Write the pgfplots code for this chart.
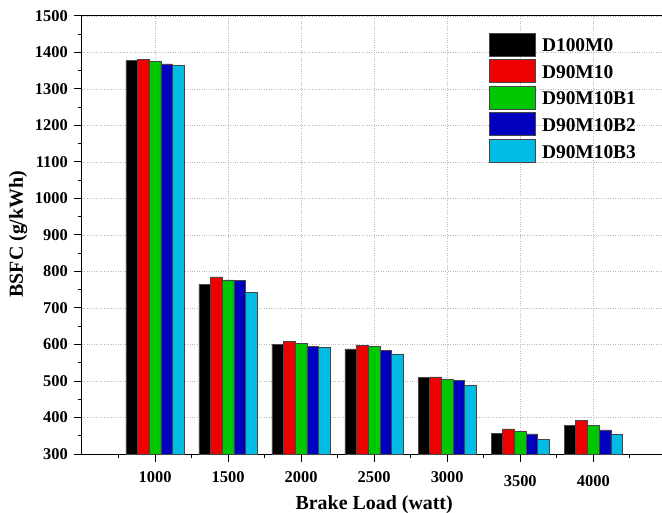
\documentclass[border=0pt]{standalone}
\usepackage{fontspec}
\setmainfont{Liberation Serif}
\usepackage{pgfplots}
\pgfplotsset{compat=1.18}

\definecolor{cRed}{RGB}{238,0,0}
\definecolor{cGreen}{RGB}{0,200,0}
\definecolor{cBlue}{RGB}{0,0,190}
\definecolor{cCyan}{RGB}{0,188,228}
\definecolor{cEdge}{RGB}{70,70,70}

\begin{document}
\begin{tikzpicture}
\begin{axis}[
  scale only axis,
  width=657.4bp, height=438bp,
  xmin=0, xmax=9,
  ymin=300, ymax=1500,
  ybar=0pt, bar width=0.16,
  axis line style={line width=1bp, black},
  xtick={1,2,3,4,5,6,7},
  xticklabels={1000,1500,2000,2500,3000,\raisebox{-4bp}[\height]{3500},\raisebox{-4.5bp}[\height]{4000}},
  minor xtick={0.5,1.5,2.5,3.5,4.5,5.5,6.5,7.5},
  ytick={300,400,...,1500},
  minor y tick num=1,
  tick pos=left, tick align=outside,
  major tick length=8bp, minor tick length=4bp,
  every tick/.style={black, line width=1bp},
  grid=major,
  major grid style={dotted, gray!55, line width=0.7bp},
  /pgf/number format/assume math mode=true,
  ticklabel style={font=\fontsize{16.5}{18}\selectfont\bfseries},
  yticklabel style={/pgf/number format/1000 sep={}, inner sep=0pt, xshift=-6bp},
  xticklabel style={inner sep=0pt, yshift=-9bp, anchor=north},
  xlabel={Brake Load (watt)},
  ylabel={BSFC (g/kWh)},
  label style={font=\fontsize{20}{22}\selectfont\bfseries},
  xlabel style={at={(axis cs:4,300)}, anchor=center, yshift=-51bp},
  ylabel style={at={(axis description cs:-0.097,0.502)}, anchor=center},
  legend cell align=left,
  legend style={draw=none, fill=none, at={(axis cs:5.575,1455)},
    anchor=north west, inner sep=0pt, row sep=3bp, column sep=6bp,
    nodes={inner sep=0pt},
    font=\fontsize{19.5}{21}\selectfont\bfseries},
  legend image code/.code={\draw[#1] (0bp,-10bp) rectangle (46bp,13bp);},
  every axis plot/.append style={draw=cEdge, line width=0.6bp},
]
% BSFC of each blend at each brake load
\addplot[fill=black] coordinates {(1,1378) (2,765) (3,600) (4,588) (5,509) (6,357) (7,379)};
\addplot[fill=cRed] coordinates {(1,1381) (2,785) (3,608) (4,598) (5,511) (6,369) (7,393)};
\addplot[fill=cGreen] coordinates {(1,1376) (2,777) (3,604) (4,594) (5,505) (6,361) (7,378)};
\addplot[fill=cBlue] coordinates {(1,1369) (2,775) (3,595) (4,584) (5,501) (6,355) (7,366)};
\addplot[fill=cCyan] coordinates {(1,1364) (2,743) (3,592) (4,574) (5,489) (6,341) (7,353)};
\legend{D100M0, D90M10, D90M10B1, D90M10B2, D90M10B3}
\end{axis}
\pgfresetboundingbox
\useasboundingbox ([shift={(-82bp,-59bp)}]current axis.south west) rectangle ([shift={(580bp,454bp)}]current axis.south west);
\end{tikzpicture}
\end{document}
